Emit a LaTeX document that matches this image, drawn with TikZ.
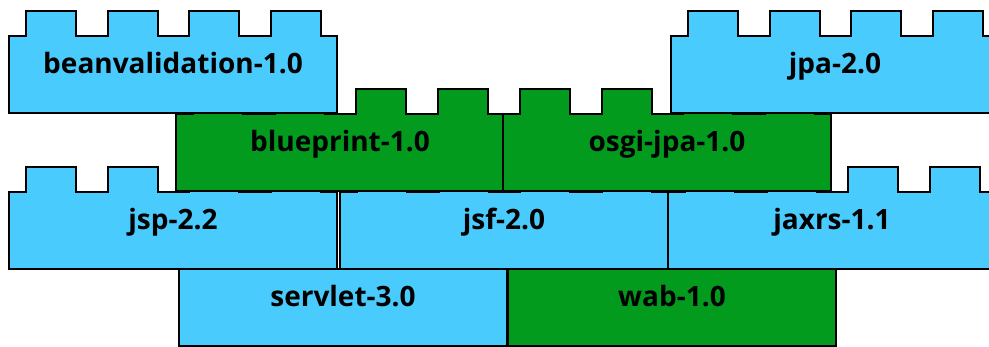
\documentclass[tikz,border=0pt]{standalone}
\usepackage{fontspec}
\setmainfont{Open Sans}
\definecolor{lightbrick}{RGB}{74,203,253}
\definecolor{darkbrick}{RGB}{2,155,29}
% x, y of body top left, colour, name, label
\newcommand\brick[5]{%
\draw[fill=#3] (#1,#2) -- ++(17,0)
  -- ++(0,-\s) -- ++(50,0) -- ++(0,\s) -- ++(32,0)
  -- ++(0,-\s) -- ++(50,0) -- ++(0,\s) -- ++(31,0)
  -- ++(0,-\s) -- ++(50,0) -- ++(0,\s) -- ++(32,0)
  -- ++(0,-\s) -- ++(50,0) -- ++(0,\s) -- ++(16,0)
  -- ++(0,\h) -- ++(-328,0) -- cycle;
\node (#4) at ({#1+164},{#2+38}) [anchor=base] {#5};
}
\begin{document}
\begin{tikzpicture}[x=1pt,y=-1pt,line width=1.6pt,font=\fontsize{28}{32}\selectfont\bfseries]
\def\s{25}
\def\h{77}
\useasboundingbox (0,0) rectangle (989,347);
\clip (0,0) rectangle (989,347);
% bottom row first, upper rows cover the studs
\brick{179}{269}{lightbrick}{servlet}{servlet-3.0}
\brick{508}{269}{darkbrick}{wab}{wab-1.0}
\brick{9}{192}{lightbrick}{jsp}{jsp-2.2}
\brick{340}{192}{lightbrick}{jsf}{jsf-2.0}
\brick{668}{192}{lightbrick}{jaxrs}{jaxrs-1.1}
\brick{176}{114}{darkbrick}{blueprint}{blueprint-1.0}
\brick{503}{114}{darkbrick}{osgijpa}{osgi-jpa-1.0}
\brick{9}{36}{lightbrick}{beanval}{beanvalidation-1.0}
\brick{671}{36}{lightbrick}{jpa}{jpa-2.0}
\end{tikzpicture}
\end{document}
